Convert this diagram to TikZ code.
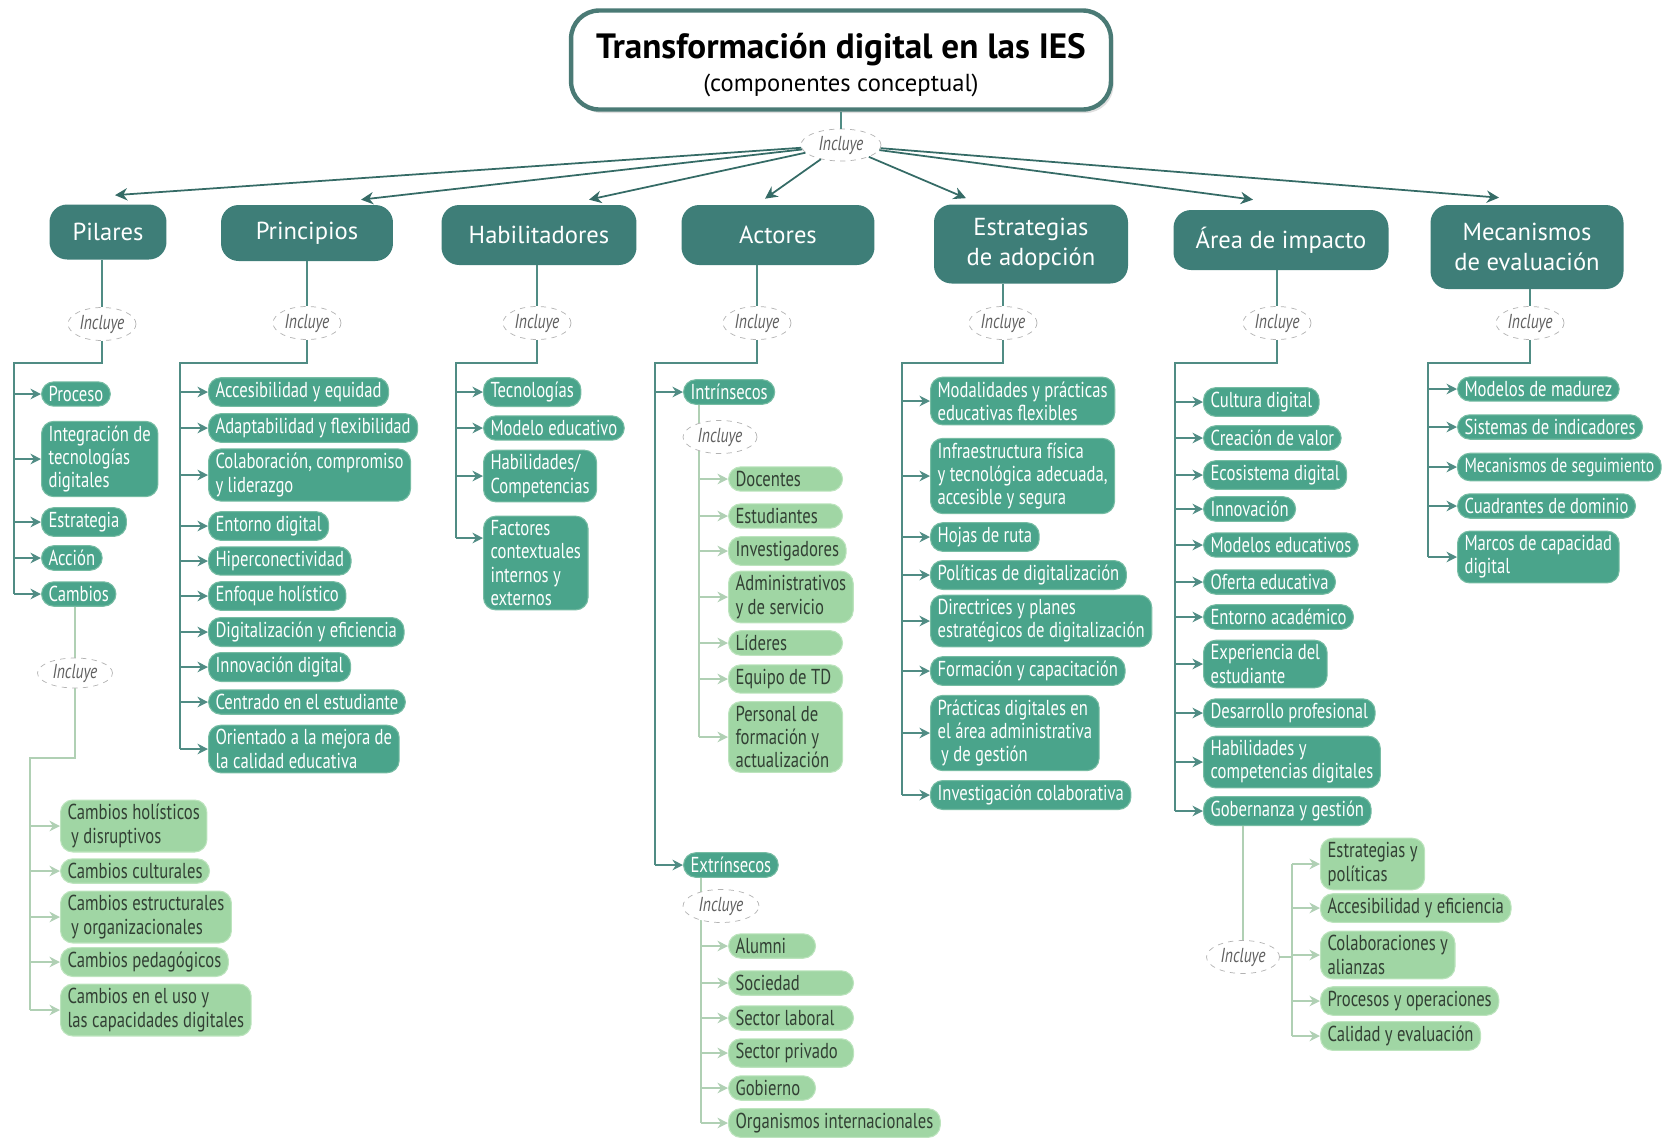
\documentclass[tikz,border=0pt]{standalone}
\usepackage{fontspec}
\setmainfont{PT Sans}
\newfontfamily\condfont[FakeStretch=0.77]{PT Sans}
\usetikzlibrary{arrows.meta,shapes.geometric,shadows}
\definecolor{catteal}{RGB}{62,126,120}
\definecolor{itemteal}{RGB}{74,164,139}
\definecolor{itemedge}{RGB}{118,188,163}
\definecolor{lightgreen}{RGB}{160,214,164}
\definecolor{lightedge}{RGB}{188,228,189}
\definecolor{linkteal}{RGB}{80,140,132}
\definecolor{linklight}{RGB}{176,208,180}
\definecolor{darktext}{RGB}{50,64,52}
\definecolor{titleedge}{RGB}{74,122,117}
% fixed width label, text on the left
\newcommand{\wbox}[2]{\makebox[#1][l]{#2}}

\begin{document}
\begin{tikzpicture}[x=0.02cm,y=-0.02cm,
  cat/.style={fill=catteal,text=white,rounded corners=10pt,align=center,font=\fontsize{14}{17}\selectfont,inner sep=2pt},
  item/.style={fill=itemteal,draw=itemedge,line width=0.6pt,text=white,rounded corners=7pt,align=left,anchor=west,font=\condfont\fontsize{12.3}{13.2}\selectfont,inner xsep=4pt,inner ysep=2.5pt},
  sub/.style={item,fill=lightgreen,draw=lightedge,text=darktext},
  incl/.style={ellipse,draw=gray!60,dashed,fill=white,minimum width=1.36cm,minimum height=0.66cm,inner sep=0pt,text=gray!75!black,font=\condfont\itshape\fontsize{11.5}{12}\selectfont},
  link/.style={draw=linkteal,line width=0.9pt},
  arr/.style={link,-{Stealth[length=6pt,width=6pt]}},
  lightlink/.style={draw=linklight,line width=0.9pt},
  lightarr/.style={lightlink,-{Stealth[length=6pt,width=6pt]}},
  toparr/.style={draw=catteal!85!black,line width=1pt,-{Stealth[length=7pt,width=7pt]}}
]
\useasboundingbox (0,0) rectangle (1665,1137);

% title and first level
\node[draw=titleedge,line width=2.5pt,fill=white,rounded corners=16pt,minimum width=10.8cm,minimum height=1.98cm,
  drop shadow={opacity=0.25,shadow xshift=1.5pt,shadow yshift=-2pt}] (ttl) at (841,60) {};
\node[align=center,font=\fontsize{14}{18}\selectfont] (ttlText) at ([shift={(0,5)}]ttl.center)
  {{\fontsize{20}{24}\selectfont\bfseries Transformación digital en las IES}\\[1pt]{\fontsize{14}{16}\selectfont (componentes conceptual)}};
\node[incl,minimum width=1.6cm,minimum height=0.64cm] (topI) at (841,145) {Incluye};
\draw[link] (ttl) -- (topI);

\node[cat,minimum width=2.34cm,minimum height=1.1cm] (pil) at (108,232) {Pilares};
\node[cat,minimum width=3.44cm,minimum height=1.12cm] (pri) at (307,233) {Principios};
\node[cat,minimum width=3.9cm,minimum height=1.2cm] (hab) at (539,235) {Habilitadores};
\node[cat,minimum width=3.86cm,minimum height=1.2cm] (act) at (778,235) {Actores};
\node[cat,minimum width=3.88cm,minimum height=1.58cm] (est) at (1031,244) {Estrategias\\de adopción};
\node[cat,minimum width=4.3cm,minimum height=1.2cm] (are) at (1281,240) {Área de impacto};
\node[cat,minimum width=3.86cm,minimum height=1.68cm] (mec) at (1527,247) {Mecanismos\\de evaluación};

\draw[toparr] (topI) -- ([shift={(7,-9)}]pil.north);
\draw[toparr] (topI) -- ([shift={(54,-5)}]pri.north);
\draw[toparr] (topI) -- ([shift={(50,-5)}]hab.north);
\draw[toparr] (topI) -- ([shift={(-13,-6)}]act.north);
\draw[toparr] (topI) -- ([shift={(-65,-6)}]est.north);
\draw[toparr] (topI) -- ([shift={(-28,-10)}]are.north);
\draw[toparr] (topI) -- ([shift={(-28,-7)}]mec.north);

\node[incl] (pilI) at (102,324) {Incluye};
\node[incl] (priI) at (307,323) {Incluye};
\node[incl] (habI) at (537,323) {Incluye};
\node[incl] (actI) at (757,323) {Incluye};
\node[incl] (estI) at (1003,323) {Incluye};
\node[incl] (areI) at (1277,323) {Incluye};
\node[incl] (mecI) at (1530,323) {Incluye};
\foreach \g in {pil,pri,hab,act,est,are,mec}
  \draw[link] (\g I |- \g.south) -- (\g I.north);

% Pilares
\node[item] (pil1) at (41,394) {Proceso};
\node[item] (pil2) at (41,459) {Integración de\\tecnologías\\digitales};
\node[item] (pil3) at (41,522) {Estrategia};
\node[item] (pil4) at (41,558) {Acción};
\node[item] (pil5) at (41,594) {Cambios};
\coordinate (pilT) at (14,363);
\draw[link] (pilI.south) |- (pilT) -- (pilT |- pil5.west);
\foreach \i in {1,...,5}
  \draw[arr] (pilT |- pil\i.west) -- (pil\i.west);

\node[sub] (cb1) at (60,826) {Cambios holísticos\\\,y disruptivos};
\node[sub] (cb2) at (60,871) {Cambios culturales};
\node[sub] (cb3) at (60,917) {Cambios estructurales\\\,y organizacionales};
\node[sub] (cb4) at (60,962) {Cambios pedagógicos};
\node[sub] (cb5) at (60,1010) {Cambios en el uso y\\las capacidades digitales};
\coordinate (cbT) at (30,758);
\draw[lightlink] (75,0 |- pil5.south) -- (75,673) |- (cbT) -- (cbT |- cb5.west);
\foreach \i in {1,...,5}
  \draw[lightarr] (cbT |- cb\i.west) -- (cb\i.west);
\node[incl,minimum width=1.5cm,minimum height=0.6cm] (cbI) at (75,673) {Incluye};

% Principios
\node[item] (pri1) at (208,392) {Accesibilidad y equidad};
\node[item] (pri2) at (208,428) {Adaptabilidad y flexibilidad};
\node[item] (pri3) at (208,475) {Colaboración, compromiso\\y liderazgo};
\node[item] (pri4) at (208,526) {Entorno digital};
\node[item] (pri5) at (208,561) {Hiperconectividad};
\node[item] (pri6) at (208,596) {Enfoque holístico};
\node[item] (pri7) at (208,632) {Digitalización y eficiencia};
\node[item] (pri8) at (208,667) {Innovación digital};
\node[item] (pri9) at (208,702) {Centrado en el estudiante};
\node[item] (pri10) at (208,749) {Orientado a la mejora de\\la calidad educativa};
\coordinate (priT) at (180,363);
\draw[link] (priI.south) |- (priT) -- (priT |- pri10.west);
\foreach \i in {1,...,10}
  \draw[arr] (priT |- pri\i.west) -- (pri\i.west);

% Habilitadores
\node[item] (hab1) at (483,392) {Tecnologías};
\node[item] (hab2) at (483,428) {Modelo educativo};
\node[item] (hab3) at (483,476) {Habilidades/\\Competencias};
\node[item] (hab4) at (483,563) {Factores\\contextuales\\internos y\\externos};
\coordinate (habT) at (456,363);
\coordinate (hab4a) at (483,538);
\draw[link] (habI.south) |- (habT) -- (habT |- hab4a);
\foreach \i in {1,...,3}
  \draw[arr] (habT |- hab\i.west) -- (hab\i.west);
\draw[arr] (habT |- hab4a) -- (hab4a);

% Actores
\node[item] (act1) at (683,392) {Intrínsecos};
\node[item] (act2) at (683,865) {Extrínsecos};
\coordinate (actT) at (655,363);
\draw[link] (actI.south) |- (actT) -- (actT |- act2.west);
\foreach \i in {1,2}
  \draw[arr] (actT |- act\i.west) -- (act\i.west);

\node[sub] (ai1) at (728,479) {\wbox{2cm}{Docentes}};
\node[sub] (ai2) at (728,516) {\wbox{2cm}{Estudiantes}};
\node[sub] (ai3) at (728,551) {Investigadores};
\node[sub] (ai4) at (728,597) {Administrativos\\y de servicio};
\node[sub] (ai5) at (728,643) {\wbox{2cm}{Líderes}};
\node[sub] (ai6) at (728,679) {\wbox{2cm}{Equipo de TD}};
\node[sub] (ai7) at (728,737) {\wbox{2cm}{Personal de}\\formación y\\actualización};
\coordinate (aiT) at (699,0 |- act1.south);
\draw[lightlink] (aiT) -- (aiT |- ai7.west);
\foreach \i in {1,...,7}
  \draw[lightarr] (aiT |- ai\i.west) -- (ai\i.west);
\node[incl,minimum width=1.48cm] (aiI) at (720,437) {Incluye};

\node[sub] (ae1) at (728,946) {\wbox{1.46cm}{Alumni}};
\node[sub] (ae2) at (728,983) {\wbox{2.22cm}{Sociedad}};
\node[sub] (ae3) at (728,1018) {\wbox{2.22cm}{Sector laboral}};
\node[sub] (ae4) at (728,1053) {\wbox{2.22cm}{Sector privado}};
\node[sub] (ae5) at (728,1088) {\wbox{1.46cm}{Gobierno}};
\node[sub] (ae6) at (728,1123) {Organismos internacionales};
\coordinate (aeT) at (701,0 |- act2.south);
\draw[lightlink] (aeT) -- (aeT |- ae6.west);
\foreach \i in {1,...,6}
  \draw[lightarr] (aeT |- ae\i.west) -- (ae\i.west);
\node[incl,minimum width=1.52cm] (aeI) at (721,906) {Incluye};

% Estrategias de adopcion
\node[item] (est1) at (930,401) {Modalidades y prácticas\\educativas flexibles};
\node[item] (est2) at (930,476) {Infraestructura física\\y tecnológica adecuada,\\accesible y segura};
\node[item] (est3) at (930,537) {Hojas de ruta};
\node[item] (est4) at (930,575) {Políticas de digitalización};
\node[item] (est5) at (930,621) {Directrices y planes\\estratégicos de digitalización};
\node[item] (est6) at (930,671) {Formación y capacitación};
\node[item] (est7) at (930,733) {Prácticas digitales en\\el área administrativa\\\,y de gestión};
\node[item] (est8) at (930,795) {Investigación colaborativa};
\coordinate (estT) at (902,363);
\draw[link] (estI.south) |- (estT) -- (estT |- est8.west);
\foreach \i in {1,...,8}
  \draw[arr] (estT |- est\i.west) -- (est\i.west);

% Area de impacto
\node[item] (are1) at (1203,402) {Cultura digital};
\node[item] (are2) at (1203,438) {Creación de valor};
\node[item] (are3) at (1203,475) {Ecosistema digital};
\node[item] (are4) at (1203,509) {Innovación};
\node[item] (are5) at (1203,545) {Modelos educativos};
\node[item] (are6) at (1203,582) {Oferta educativa};
\node[item] (are7) at (1203,617) {Entorno académico};
\node[item] (are8) at (1203,664) {Experiencia del\\estudiante};
\node[item] (are9) at (1203,713) {Desarrollo profesional};
\node[item] (are10) at (1203,762) {Habilidades y\\competencias digitales};
\node[item] (are11) at (1203,811) {Gobernanza y gestión};
\coordinate (areT) at (1175,363);
\draw[link] (areI.south) |- (areT) -- (areT |- are11.west);
\foreach \i in {1,...,11}
  \draw[arr] (areT |- are\i.west) -- (are\i.west);

\node[sub] (gb1) at (1320,864) {Estrategias y\\políticas};
\node[sub] (gb2) at (1320,908) {Accesibilidad y eficiencia};
\node[sub] (gb3) at (1320,955) {Colaboraciones y\\alianzas};
\node[sub] (gb4) at (1320,1001) {Procesos y operaciones};
\node[sub] (gb5) at (1320,1036) {Calidad y evaluación};
\node[incl,minimum width=1.46cm] (gbI) at (1243,957) {Incluye};
\coordinate (gbT) at (1292,864);
\draw[lightlink] (gbI |- are11.south) -- (gbI.north);
\draw[lightlink] (gbT) -- (gbT |- gb5.west);
\draw[lightlink] (gbI.east) -- (gbT |- gbI.east);
\foreach \i in {1,...,5}
  \draw[lightarr] (gbT |- gb\i.west) -- (gb\i.west);

% Mecanismos de evaluacion
\node[item] (mec1) at (1457,389) {Modelos de madurez};
\node[item] (mec2) at (1457,427) {Sistemas de indicadores};
\node[item,font=\condfont\fontsize{11.6}{13}\selectfont] (mec3) at (1457,467) {Mecanismos de seguimiento};
\node[item] (mec4) at (1457,506) {Cuadrantes de dominio};
\node[item] (mec5) at (1457,557) {Marcos de capacidad\\digital};
\coordinate (mecT) at (1428,363);
\draw[link] (mecI.south) |- (mecT) -- (mecT |- mec5.west);
\foreach \i in {1,...,5}
  \draw[arr] (mecT |- mec\i.west) -- (mec\i.west);
\end{tikzpicture}
\end{document}
